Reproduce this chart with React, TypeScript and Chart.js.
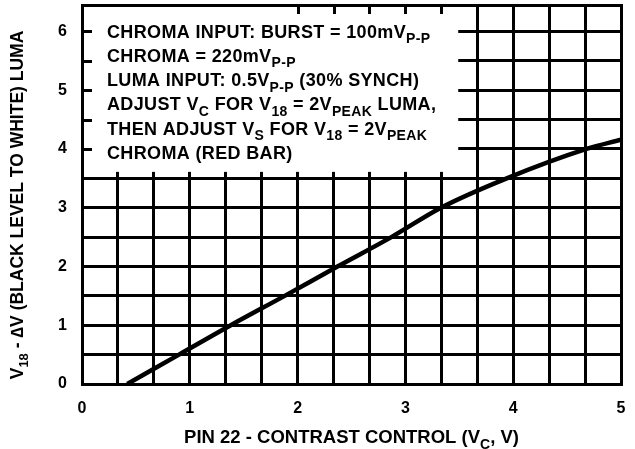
import React, { useEffect, useRef } from "react";
import { Chart, registerables } from "chart.js";

Chart.register(...registerables);

// Curve (Vc in volts, V18 - dV in volts)
const contrastV = [0.42, 0.9, 1.38, 1.88, 2.37, 2.87, 3.33, 3.94, 4.68, 5.0];
const lumaV = [0, 0.5, 1.0, 1.5, 2.0, 2.5, 3.0, 3.5, 4.0, 4.16];

// Axis ranges and gridlines
const xMin = 0;
const xMax = 5;
const xGrid = [0, 1 / 3, 2 / 3, 1, 4 / 3, 5 / 3, 2, 7 / 3, 8 / 3, 3, 10 / 3, 11 / 3, 4, 13 / 3, 14 / 3, 5];
const yMin = 0;
const yMax = 6.45;
const yGrid = [0, 0.5, 1, 1.5, 2, 2.5, 3, 3.5, 4, 4.5, 5, 5.5, 6];

// Annotation box extent (data units) and text
const boxRightX = 3.49;
const boxBottomY = 3.61;
type Seg = { t: string; sub?: boolean };
const noteLines: Seg[][] = [
  [{ t: "CHROMA INPUT: BURST = 100mV" }, { t: "P-P", sub: true }],
  [{ t: "CHROMA = 220mV" }, { t: "P-P", sub: true }],
  [{ t: "LUMA INPUT: 0.5V" }, { t: "P-P", sub: true }, { t: " (30% SYNCH)" }],
  [{ t: "ADJUST V" }, { t: "C", sub: true }, { t: " FOR V" }, { t: "18", sub: true }, { t: " = 2V" }, { t: "PEAK", sub: true }, { t: " LUMA," }],
  [{ t: "THEN ADJUST V" }, { t: "S", sub: true }, { t: " FOR V" }, { t: "18", sub: true }, { t: " = 2V" }, { t: "PEAK", sub: true }],
  [{ t: "CHROMA (RED BAR)" }],
];
const xTitle: Seg[] = [{ t: "PIN 22 - CONTRAST CONTROL (V" }, { t: "C", sub: true }, { t: ", V)" }];
const yTitle: Seg[] = [{ t: "V" }, { t: "18", sub: true }, { t: " - \u2206V (BLACK LEVEL TO WHITE) LUMA" }];

const FAMILY = '"Liberation Sans", Arial, Helvetica, sans-serif';

function setFont(ctx: any, size: number, spacing: number) {
  ctx.font = `bold ${size}px ${FAMILY}`;
  if ("letterSpacing" in ctx) ctx.letterSpacing = `${spacing}px`;
}

function richWidth(ctx: any, segs: Seg[], size: number, spacing: number) {
  let w = 0;
  for (const s of segs) {
    setFont(ctx, s.sub ? Math.round(size * 0.75) : size, spacing);
    w += ctx.measureText(s.t).width;
  }
  return w;
}

function drawRich(ctx: any, segs: Seg[], x: number, y: number, size: number, spacing: number) {
  let cx = x;
  ctx.textBaseline = "alphabetic";
  ctx.textAlign = "left";
  for (const s of segs) {
    const fs = s.sub ? Math.round(size * 0.75) : size;
    setFont(ctx, fs, spacing);
    ctx.fillText(s.t, cx, s.sub ? y + size * 0.3 : y);
    cx += ctx.measureText(s.t).width;
  }
  setFont(ctx, size, 0);
}

const decorPlugin = {
  id: "decor",
  beforeDatasetsDraw(chart: any) {
    const { ctx, chartArea: a, scales } = chart;
    const xs = scales.x;
    const ys = scales.y;
    const bx = xs.getPixelForValue(boxRightX);
    const by = ys.getPixelForValue(boxBottomY);
    ctx.save();
    // white note box
    ctx.fillStyle = "#ffffff";
    ctx.fillRect(a.left, a.top, bx - a.left, by - a.top);
    // tick stubs on the frame inside the box
    ctx.strokeStyle = "#000";
    ctx.lineWidth = 3;
    ctx.beginPath();
    for (const v of yGrid) {
      const py = Math.round(ys.getPixelForValue(v)) + 0.5;
      if (py < by && v > 0) {
        ctx.moveTo(a.left, py);
        ctx.lineTo(a.left + 10, py);
      }
    }
    for (const v of xGrid) {
      const px = Math.round(xs.getPixelForValue(v)) + 0.5;
      if (px < bx && v >= 2 - 1e-6) {
        ctx.moveTo(px, a.top);
        ctx.lineTo(px, a.top + 9);
      }
    }
    ctx.stroke();
    // frame
    ctx.lineWidth = 3;
    ctx.strokeRect(Math.round(a.left) + 0.5, Math.round(a.top) + 0.5, Math.round(a.right - a.left), Math.round(a.bottom - a.top));
    // note text
    ctx.fillStyle = "#000";
    noteLines.forEach((segs, i) => drawRich(ctx, segs, 107, 37.5 + i * 24.3, 18, 0.35));
    ctx.restore();
  },
  afterDraw(chart: any) {
    const { ctx, chartArea: a } = chart;
    ctx.save();
    ctx.fillStyle = "#000";
    // x title
    const xs = 18.5;
    const wx = richWidth(ctx, xTitle, xs, 0);
    drawRich(ctx, xTitle, (a.left + a.right) / 2 - wx / 2, 443, xs, 0);
    // y title
    const ysz = 17.5;
    const wy = richWidth(ctx, yTitle, ysz, 0);
    ctx.translate(23, 205);
    ctx.rotate(-Math.PI / 2);
    drawRich(ctx, yTitle, -wy / 2, 0, ysz, 0);
    ctx.restore();
  },
};

export default function App() {
  const ref = useRef<HTMLCanvasElement | null>(null);
  useEffect(() => {
    if (!ref.current) return;
    const tickFont = { family: FAMILY, size: 16, weight: "bold" as const };
    const chart = new Chart(ref.current, {
      type: "line",
      data: {
        datasets: [
          {
            data: contrastV.map((x, i) => ({ x, y: lumaV[i] })),
            borderColor: "#000",
            borderWidth: 4.5,
            pointRadius: 0,
            cubicInterpolationMode: "monotone",
            fill: false,
          },
        ],
      },
      options: {
        animation: false,
        responsive: true,
        maintainAspectRatio: false,
        layout: { padding: { top: 5, right: 14, left: 0, bottom: 0 } },
        plugins: { legend: { display: false }, tooltip: { enabled: false } },
        scales: {
          x: {
            type: "linear",
            min: xMin,
            max: xMax,
            afterBuildTicks: (s: any) => {
              s.ticks = xGrid.map((value) => ({ value }));
            },
            afterFit: (s: any) => {
              s.height = 65;
              s.paddingLeft = 0;
              s.paddingRight = 0;
            },
            ticks: {
              autoSkip: false,
              maxRotation: 0,
              padding: 15,
              color: "#000",
              font: tickFont,
              callback: (v: any) => (Math.abs(v - Math.round(v)) < 1e-6 ? String(Math.round(v)) : ""),
            },
            grid: { color: "#000", lineWidth: 3, drawTicks: false },
            border: { display: false },
          },
          y: {
            type: "linear",
            min: yMin,
            max: yMax,
            afterBuildTicks: (s: any) => {
              s.ticks = yGrid.map((value) => ({ value }));
            },
            afterFit: (s: any) => {
              s.width = 82;
              s.paddingTop = 0;
              s.paddingBottom = 0;
            },
            ticks: {
              autoSkip: false,
              padding: 15,
              color: "#000",
              font: tickFont,
              callback: (v: any) => (Math.abs(v - Math.round(v)) < 1e-6 ? String(Math.round(v)) : ""),
            },
            grid: { color: "#000", lineWidth: 3, drawTicks: false },
            border: { display: false },
          },
        },
      },
      plugins: [decorPlugin],
    });
    return () => chart.destroy();
  }, []);
  return (
    <div style={{ position: "fixed", left: 0, top: 0, width: 635, height: 449, background: "#fff" }}>
      <canvas ref={ref} />
    </div>
  );
}
